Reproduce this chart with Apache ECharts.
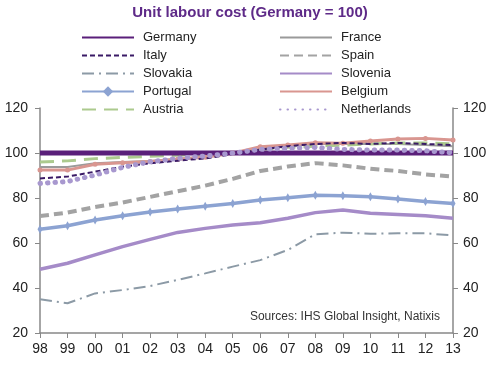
<!DOCTYPE html>
<html><head><meta charset="utf-8">
<script src="https://cdn.jsdelivr.net/npm/echarts@6/dist/echarts.min.js"></script>
<style>html,body{margin:0;padding:0;background:#fff}#c{width:500px;height:366px}</style>
</head><body><div id="c"></div>
<script>
const years = ['98','99','00','01','02','03','04','05','06','07','08','09','10','11','12','13'];
const germany = [100,100,100,100,100,100,100,100,100,100,100,100,100,100,100,100];
const italy = [88.7,89.5,91.7,93.9,95.4,96.6,97.6,99.5,101.5,103,104,104.5,104,104.5,104,103.5];
const slovakia = [35,33.2,37.6,39.1,40.9,43.6,46.5,49.5,52.4,56.9,63.9,64.6,64.1,64.3,64.3,63.4];
const portugal = [66.1,67.7,70.2,72.1,73.8,75.1,76.3,77.6,79.1,80.1,81.2,81,80.6,79.6,78.4,77.6];
const austria = [96,96.5,97.5,98,98.5,99,99.5,100,101.5,102.5,103,103.5,104,104.5,104.5,104];
const france = [93.8,93.8,95.5,96,96.5,97.5,98.5,100,102,103,104,104,104,104,103.5,103];
const spain = [72,73.5,76,78,80.5,83,85.5,88.5,92,94,95.5,94.5,93,92,90.5,89.5];
const slovenia = [48.3,51,54.7,58.4,61.6,64.7,66.5,68,69,71,73.5,74.7,73.2,72.7,72.1,71];
const belgium = [92.4,92.4,95,95.7,96.2,97.2,98.1,99.9,102.8,103.6,104.6,104.3,105.3,106.2,106.5,105.8];
const netherlands = [86.5,87.3,90.2,93.6,96.1,97.6,98.7,99.9,101.6,102.1,102.5,101.6,101.3,101.3,101,100.1];
const yTicks = [20,40,60,80,100,120];

const font = 'Liberation Sans, Arial, sans-serif';
function line(name, data, color, width, type, extra) {
  return Object.assign({
    name, type: 'line', data, symbol: 'none', smooth: false,
    lineStyle: {color, width, type: type || 'solid'},
    itemStyle: {color}
  }, extra || {});
}
const series = [
  line('France', france, '#9a9a9a', 2, 'solid', {z: 2}),
  line('Spain', spain, '#a3a3a3', 4, [9, 5], {z: 2}),
  line('Slovakia', slovakia, '#8c9aa6', 2, [12, 5, 2, 5], {z: 2}),
  line('Slovenia', slovenia, '#a58bc8', 3.5, 'solid', {z: 3}),
  line('Portugal', portugal, '#8ca3d2', 3.5, 'solid', {z: 3, symbol: 'diamond', symbolSize: [5, 9], showSymbol: true}),
  line('Austria', austria, '#acca8e', 3, [14, 8], {z: 3}),
  line('Belgium', belgium, '#d99690', 3, 'solid', {z: 4, symbol: 'circle', symbolSize: 5, showSymbol: true}),
  line('Italy', italy, '#3a1a66', 2, [5, 3], {z: 5}),
  line('Germany', germany, '#5a1f7a', 5, 'solid', {z: 4}),
  line('Netherlands', netherlands, '#a898cf', 4, [0.5, 7], {z: 6, lineStyle: {color: '#a898cf', width: 5, type: [0.5, 7], cap: 'round'}})
];
const hide = {opacity: 0};
function item(name, marker) { return marker ? {name} : {name, itemStyle: hide}; }
const legendCommon = {
  orient: 'vertical', itemWidth: 52, itemHeight: 13, itemGap: 5,
  textStyle: {fontFamily: font, fontSize: 13, color: '#222', padding: [0, 0, 0, 4]}
};
const chart = echarts.init(document.getElementById('c'), null, {renderer: 'canvas'});
chart.setOption({
  animation: false,
  title: {text: 'Unit labour cost (Germany = 100)', left: 'center', top: 0,
    textStyle: {fontFamily: font, fontSize: 15, fontWeight: 'bold', color: '#5e2a88'}},
  legend: [
    Object.assign({}, legendCommon, {left: 76, top: 26, data: [item('Germany'), item('Italy'), item('Slovakia'), item('Portugal', true), item('Austria')]}),
    Object.assign({}, legendCommon, {left: 274, top: 26, data: [item('France'), item('Spain'), item('Slovenia'), item('Belgium'), item('Netherlands')]})
  ],
  grid: {left: 40, right: 47, top: 108, bottom: 33, containLabel: false},
  xAxis: {type: 'category', data: years, boundaryGap: false,
    axisLine: {lineStyle: {color: '#888', width: 1.5}},
    axisTick: {show: true, alignWithLabel: true, length: 5, lineStyle: {color: '#888'}},
    axisLabel: {fontFamily: font, fontSize: 14, color: '#222', margin: 9},
    splitLine: {show: false}},
  yAxis: [
    {type: 'value', min: 20, max: 120, interval: 20, position: 'left',
      axisLine: {show: true, lineStyle: {color: '#888', width: 1.5}},
      axisTick: {show: true, length: 5, lineStyle: {color: '#888'}},
      axisLabel: {fontFamily: font, fontSize: 14, color: '#222', margin: 12},
      splitLine: {show: false}},
    {type: 'value', min: 20, max: 120, interval: 20, position: 'right',
      axisLine: {show: true, lineStyle: {color: '#888', width: 1.5}},
      axisTick: {show: true, length: 5, lineStyle: {color: '#888'}},
      axisLabel: {fontFamily: font, fontSize: 14, color: '#222', margin: 10},
      splitLine: {show: false}}
  ],
  graphic: [{type: 'text', right: 60, top: 311,
    style: {text: 'Sources: IHS Global Insight, Natixis', font: '12px ' + font, fill: '#333'}}],
  series: series
});
</script></body></html>
